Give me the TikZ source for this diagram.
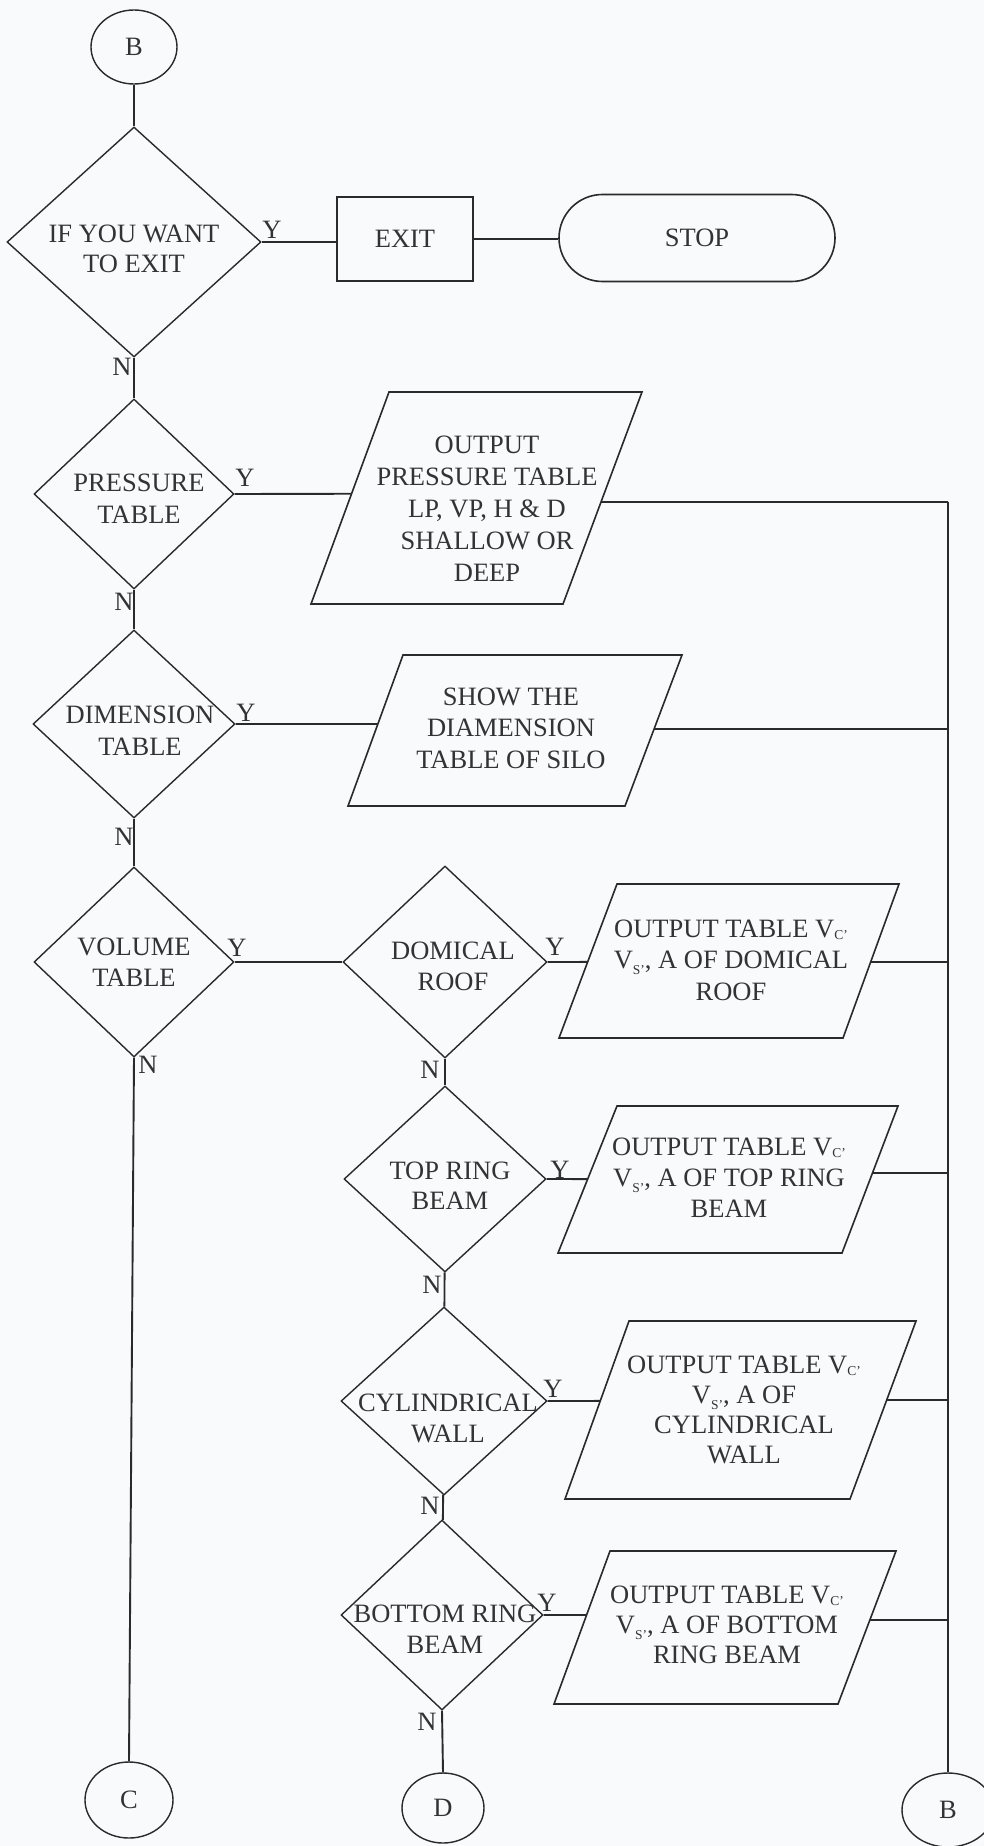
\documentclass[tikz,border=0pt]{standalone}
\usepackage{fontspec}
\setmainfont{Liberation Serif}
\usetikzlibrary{shapes.geometric,shapes.misc,calc}
\definecolor{ink}{HTML}{2A2A2A}
\definecolor{txt}{HTML}{333333}
\definecolor{paper}{HTML}{F9FAFC}
\newcommand{\lowsub}[2]{\raisebox{#1}{\fontsize{13.5}{13.5}\selectfont #2}}
\newcommand{\parallelo}[7]{%
  \coordinate (#1-nw) at (#2,#4);
  \coordinate (#1-ne) at (#3,#4);
  \coordinate (#1-sw) at (#5,#7);
  \coordinate (#1-se) at (#6,#7);
  \draw[boxline] (#1-nw) -- (#1-ne) -- (#1-se) -- (#1-sw) -- cycle;}
\begin{document}
\begin{tikzpicture}[x=1pt,y=-1pt,
  every node/.style={font=\fontsize{26.5}{31}\selectfont, text=txt},
  dia/.style={diamond, draw=ink, line width=1.4pt, inner sep=0pt},
  term/.style={ellipse, draw=ink, line width=1.4pt, inner sep=0pt},
  conn/.style={draw=ink, line width=1.9pt},
  boxline/.style={draw=ink, line width=1.6pt, line join=miter},
  ctext/.style={align=center, inner sep=0pt},
  lbl/.style={inner sep=0pt}]
\fill[paper] (0,0) rectangle (984,1846);
\useasboundingbox (0,0) rectangle (984,1846);

% connectors (circles)
\node[term, minimum width=86pt, minimum height=74pt] (bt) at (134,47) {B};
\node[term, minimum width=88pt, minimum height=76pt] (cc) at (129,1800) {C};
\node[term, minimum width=82pt, minimum height=70pt] (dd) at (443,1808) {D};
\node[term, minimum width=92pt, minimum height=74pt] (bb) at (948,1810) {B};

% decisions
\node[dia, minimum width=254pt, minimum height=230pt] (d1) at (134,242) {};
\node[ctext, font=\fontsize{26.5}{30}\selectfont] (t1) at (134,249) {IF YOU WANT\\TO EXIT};
\node[dia, minimum width=200pt, minimum height=190pt] (d2) at (134,494) {};
\node[ctext, font=\fontsize{26.5}{32}\selectfont] (t2) at (139,499) {PRESSURE\\TABLE};
\node[dia, minimum width=202pt, minimum height=188pt] (d3) at (134,724) {};
\node[ctext, font=\fontsize{26.5}{32}\selectfont] (t3) at (140,731) {DIMENSION\\TABLE};
\node[dia, minimum width=200pt, minimum height=190pt] (d4) at (134,962) {};
\node[ctext] (t4) at (134,962) {VOLUME\\TABLE};
\node[dia, minimum width=204pt, minimum height=192pt] (d5) at (445,962) {};
\node[ctext] (t5) at (453,966) {DOMICAL\\ROOF};
\node[dia, minimum width=202pt, minimum height=186pt] (d6) at (445,1179) {};
\node[ctext, font=\fontsize{26.5}{30}\selectfont] (t6) at (450,1186) {TOP RING\\BEAM};
\node[dia, minimum width=206pt, minimum height=188pt] (d7) at (444,1401) {};
\node[ctext] (t7) at (448,1418) {CYLINDRICAL\\WALL};
\node[dia, minimum width=202pt, minimum height=190pt] (d8) at (442,1615) {};
\node[ctext] (t8) at (445,1629) {BOTTOM RING\\BEAM};

% exit / stop
\node[draw=ink, line width=1.6pt, minimum width=136pt, minimum height=84pt, inner sep=0pt] (exit) at (405,239) {EXIT};
\node[rounded rectangle, draw=ink, line width=1.6pt, minimum width=276pt, minimum height=87pt, inner sep=0pt] (stop) at (697,238) {STOP};

% outputs
\parallelo{p1}{389}{642}{392}{311}{563}{604}
\node[ctext, font=\fontsize{26.5}{32}\selectfont] (t9) at (487,509) {OUTPUT\\PRESSURE TABLE\\LP, VP, H \& D\\SHALLOW OR\\DEEP};
\parallelo{p2}{403}{682}{655}{348}{625}{806}
\node[ctext, font=\fontsize{26.5}{31.5}\selectfont] (t10) at (511,728) {SHOW THE\\DIAMENSION\\TABLE OF SILO};
\parallelo{p3}{617}{899}{884}{559}{843}{1038}
\node[ctext, font=\fontsize{26.5}{31.5}\selectfont] (t11) at (731,960) {OUTPUT TABLE V\lowsub{-2pt}{C'}\\V\lowsub{-6pt}{S'}, A OF DOMICAL\\ROOF};
\parallelo{p4}{617}{898}{1106}{558}{842}{1253}
\node[ctext] (t12) at (729,1178) {OUTPUT TABLE V\lowsub{-2pt}{C'}\\V\lowsub{-6pt}{S'}, A OF TOP RING\\BEAM};
\parallelo{p5}{629}{916}{1321}{565}{850}{1499}
\node[ctext, font=\fontsize{26.5}{30}\selectfont] (t13) at (744,1410) {OUTPUT TABLE V\lowsub{-2pt}{C'}\\V\lowsub{-6pt}{S'}, A OF\\CYLINDRICAL\\WALL};
\parallelo{p6}{610}{896}{1551}{554}{838}{1704}
\node[ctext, font=\fontsize{26.5}{30}\selectfont] (t14) at (727,1625) {OUTPUT TABLE V\lowsub{-2pt}{C'}\\V\lowsub{-6pt}{S'}, A OF BOTTOM\\RING BEAM};

% Y / N labels
\node[lbl] (y1) at (272,230) {Y};
\node[lbl] (n1) at (122,367) {N};
\node[lbl] (y2) at (245,478) {Y};
\node[lbl] (n2) at (124,602) {N};
\node[lbl] (y3) at (246,713) {Y};
\node[lbl] (n3) at (124,837) {N};
\node[lbl] (y4) at (237,948) {Y};
\node[lbl] (n4) at (148,1065) {N};
\node[lbl] (y5) at (555,947) {Y};
\node[lbl] (n5) at (430,1070) {N};
\node[lbl] (y6) at (560,1170) {Y};
\node[lbl] (n6) at (432,1285) {N};
\node[lbl] (y7) at (553,1389) {Y};
\node[lbl] (n7) at (430,1506) {N};
\node[lbl] (y8) at (547,1603) {Y};
\node[lbl] (n8) at (427,1722) {N};

% connectors
\coordinate (busx) at (948,0);
\draw[conn] (bt) -- (d1);
\draw[conn] (d1.east) -- (d1.east -| exit.west);
\draw[conn] (exit.east) -- (exit.east -| stop.west);
\draw[conn] (d1) -- (d2);
\draw[conn] (d2) -- (d3);
\draw[conn] (d3) -- (d4);
\draw[conn] (d4.south) -- (cc.north);
\draw[conn] (d4.east) -- (d5.west);
\draw[conn] (d5) -- (d6);
\draw[conn] (d6) -- (d7);
\draw[conn] (d7) -- (d8);
\draw[conn] (d8.south) -- (dd.north);

\draw[conn] (d2.east) -- ($(p1-nw)!0.48!(p1-sw)$);
\draw[conn] (d3.east) -- ($(p2-nw)!0.457!(p2-sw)$);
\draw[conn] (d5.east) -- ($(p3-nw)!0.506!(p3-sw)$);
\draw[conn] (d6.east) -- ($(p4-nw)!0.497!(p4-sw)$);
\draw[conn] (d7.east) -- ($(p5-nw)!0.449!(p5-sw)$);
\draw[conn] (d8.east) -- ($(p6-nw)!0.418!(p6-sw)$);

\draw[conn] ($(p1-ne)!0.52!(p1-se)$) coordinate (r1) -- (r1 -| busx) coordinate (bus1);
\draw[conn] ($(p2-ne)!0.49!(p2-se)$) coordinate (r2) -- (r2 -| busx);
\draw[conn] ($(p3-ne)!0.506!(p3-se)$) coordinate (r3) -- (r3 -| busx);
\draw[conn] ($(p4-ne)!0.456!(p4-se)$) coordinate (r4) -- (r4 -| busx);
\draw[conn] ($(p5-ne)!0.444!(p5-se)$) coordinate (r5) -- (r5 -| busx);
\draw[conn] ($(p6-ne)!0.45!(p6-se)$) coordinate (r6) -- (r6 -| busx);
\draw[conn] (bus1) -- (bb.north);
\end{tikzpicture}
\end{document}
